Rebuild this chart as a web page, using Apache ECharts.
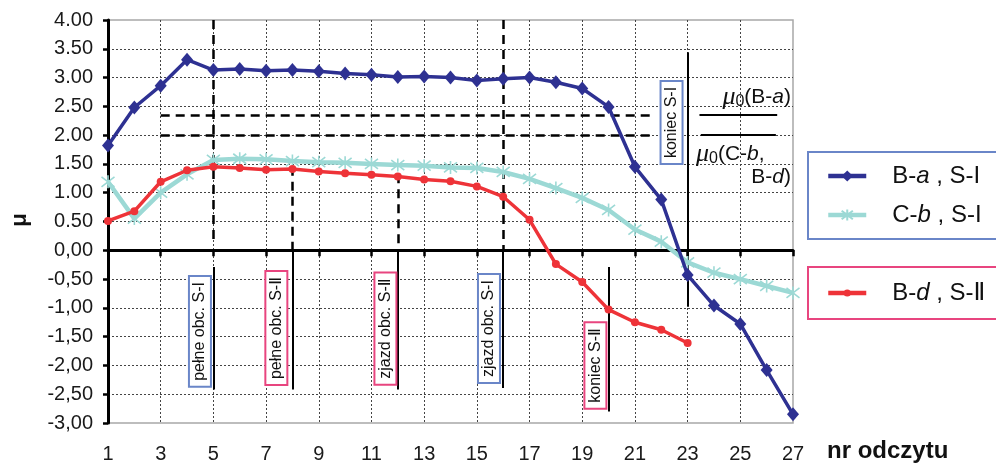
<!DOCTYPE html>
<html>
<head>
<meta charset="utf-8">
<script src="https://cdn.jsdelivr.net/npm/echarts@6/dist/echarts.min.js"></script>
<style>
  html, body { margin: 0; padding: 0; background: #fff; }
  #c { width: 996px; height: 464px; }
</style>
</head>
<body>
<div id="c"></div>
<script>
// reading numbers on the horizontal axis
const readings = ['1','2','3','4','5','6','7','8','9','10','11','12','13','14',
  '15','16','17','18','19','20','21','22','23','24','25','26','27'];

// friction coefficient μ per reading
const baValues = [1.82, 2.48, 2.86, 3.31, 3.13, 3.15, 3.12, 3.13, 3.11, 3.07, 3.05, 3.01, 3.02, 3.00,
  2.95, 2.98, 3.00, 2.92, 2.81, 2.49, 1.45, 0.88, -0.43, -0.96, -1.28, -2.08, -2.85];
const cbValues = [1.19, 0.55, 1.00, 1.32, 1.57, 1.59, 1.58, 1.55, 1.53, 1.52, 1.50, 1.48, 1.47, 1.44,
  1.43, 1.36, 1.24, 1.08, 0.91, 0.70, 0.36, 0.15, -0.21, -0.39, -0.50, -0.62, -0.74];
const bdValues = [0.51, 0.68, 1.19, 1.39, 1.45, 1.43, 1.40, 1.41, 1.37, 1.34, 1.31, 1.28, 1.23, 1.20,
  1.11, 0.93, 0.53, -0.24, -0.55, -1.03, -1.25, -1.38, -1.61];

// value axis range
const yMin = -3, yMax = 4, yStep = 0.5;

// series names
const seriesNames = ['B-a, S-I', 'C-b, S-I', 'B-d, S-Ⅱ'];

// reference lines: [x1, y1, x2, y2, dashed]
const guideLines = [
  [5, 4.0, 5, 0.15, true],
  [5, -0.29, 5, -2.42, false],
  [8, 1.45, 8, 0.0, true],
  [8, 0.0, 8, -2.42, false],
  [12, 1.32, 12, 0.0, true],
  [12, 0.0, 12, -2.42, false],
  [16, 4.0, 16, 0.0, true],
  [16, 0.0, 16, -2.39, false],
  [20, -0.29, 20, -2.8, false],
  [23, 3.44, 23, -0.98, false],
  [3, 2.35, 21.6, 2.35, true],
  [3, 2.0, 21.6, 2.0, true],
  [23.45, 2.35, 26.4, 2.35, false],
  [23.5, 2.0, 26.35, 2.0, false]
];

// phase markers: [text, x, y, frame colour key]
const phaseLabels = [
  ['pełne obc. S-I', 4.49, -1.41, 'I'],
  ['pełne obc. S-Ⅱ', 7.39, -1.35, 'II'],
  ['zjazd obc. S-Ⅱ', 11.53, -1.36, 'II'],
  ['zjazd obc. S-I', 15.46, -1.36, 'I'],
  ['koniec S-Ⅱ', 19.5, -2.0, 'II'],
  ['koniec S-I', 22.39, 2.22, 'I']
];

const FONT = '"Liberation Sans", Arial, "DejaVu Sans", sans-serif';
const NAVY = '#2E3192';
const CYAN = '#9CD9D5';
const RED = '#EE3338';
const FRAME = { I: '#6A86C8', II: '#E8457F' };

const legendText = {
  'B-a, S-I': '{g|}{n|B-}{i|a}{n| , S-I}',
  'C-b, S-I': '{g|}{n|C-}{i|b}{n| , S-I}',
  'B-d, S-Ⅱ': '{g|}{n|B-}{i|d}{n| , S-Ⅱ}'
};
const legendRich = {
  g: { width: 21 },
  n: { fontFamily: FONT, fontSize: 24, color: '#111', lineHeight: 26 },
  i: { fontFamily: FONT, fontSize: 24, color: '#111', lineHeight: 26, fontStyle: 'italic' }
};

const dotted = { color: '#444', width: 1, type: [2, 2] };
const asterisk = 'path://M0,0L10,10M10,0L0,10M5,-1.5L5,11.5';

const option = {
  animation: false,
  backgroundColor: '#fff',
  textStyle: { fontFamily: FONT },
  grid: {
    left: 108, right: 203, top: 20, bottom: 41,
    show: true, borderColor: '#a8a8a8', borderWidth: 1.5, backgroundColor: 'transparent'
  },
  legend: [
    {
      data: [seriesNames[0], seriesNames[1]],
      orient: 'vertical', left: 808, top: 152,
      padding: [12, 60, 12, 18], itemGap: 15, itemWidth: 38, itemHeight: 14,
      borderColor: FRAME.I, borderWidth: 2,
      lineStyle: { width: 4.5 },
      formatter: n => legendText[n],
      textStyle: { rich: legendRich }
    },
    {
      data: [seriesNames[2]],
      orient: 'vertical', left: 808, top: 267,
      padding: [14, 60, 14, 18], itemWidth: 38, itemHeight: 9,
      borderColor: FRAME.II, borderWidth: 2,
      lineStyle: { width: 4.5 },
      formatter: n => legendText[n],
      textStyle: { rich: legendRich }
    }
  ],
  xAxis: [
    {
      type: 'category', data: readings, boundaryGap: false, position: 'bottom',
      axisLine: { show: false, onZero: false },
      axisTick: { show: false },
      axisLabel: { interval: 1, fontSize: 20, color: '#1a1a1a', margin: 21 },
      splitLine: { show: true, interval: 1, showMinLine: false, showMaxLine: false, lineStyle: dotted }
    },
    {
      type: 'category', data: readings, boundaryGap: false, position: 'bottom',
      axisLine: { show: true, onZero: true, lineStyle: { color: '#000', width: 3 } },
      axisTick: { show: true, interval: 1, length: 6, lineStyle: { color: '#000', width: 2.5 } },
      axisLabel: { show: false },
      splitLine: { show: false }
    },
    { type: 'value', min: 1, max: 27, show: false }
  ],
  yAxis: {
    type: 'value', min: yMin, max: yMax, interval: yStep,
    axisLine: { show: true, onZero: false, lineStyle: { color: '#000', width: 3 } },
    axisTick: { show: true, length: 5, lineStyle: { color: '#000', width: 2.5 } },
    axisLabel: {
      fontSize: 20, color: '#1a1a1a', margin: 15,
      formatter: v => v > 0 ? v.toFixed(2) : v.toFixed(2).replace('.', ',')
    },
    splitLine: { show: true, showMinLine: false, showMaxLine: false, lineStyle: dotted }
  },
  series: [
    {
      name: seriesNames[0], type: 'line', data: baValues, z: 5,
      symbol: 'diamond', symbolSize: [12, 14],
      lineStyle: { color: NAVY, width: 3.5 },
      itemStyle: { color: NAVY }
    },
    {
      name: seriesNames[1], type: 'line', data: cbValues, z: 4,
      symbol: asterisk, symbolSize: 13,
      lineStyle: { color: CYAN, width: 4.5 },
      itemStyle: { color: CYAN, borderColor: CYAN, borderWidth: 1.6 }
    },
    {
      name: seriesNames[2], type: 'line', data: bdValues, z: 6,
      symbol: 'circle', symbolSize: 8,
      lineStyle: { color: RED, width: 3.5 },
      itemStyle: { color: RED }
    },
    {
      type: 'lines', coordinateSystem: 'cartesian2d', xAxisIndex: 2, yAxisIndex: 0,
      silent: true, z: 3,
      data: guideLines.map(g => ({
        coords: [[g[0], g[1]], [g[2], g[3]]],
        lineStyle: { color: '#000', width: g[4] ? 2.5 : 2, type: g[4] ? [9, 6] : 'solid', opacity: 1 }
      }))
    }
  ]
};

const chart = echarts.init(document.getElementById('c'));
chart.setOption(option);

const toPx = (x, y) => chart.convertToPixel({ xAxisIndex: 2, yAxisIndex: 0 }, [x, y]);

const graphics = phaseLabels.map(([text, x, y, key]) => {
  const p = toPx(x, y);
  return {
    type: 'text', x: p[0], y: p[1], rotation: Math.PI / 2, z: 10,
    style: {
      text, font: '16px ' + FONT, fill: '#111',
      align: 'center', verticalAlign: 'middle',
      backgroundColor: '#fff', borderColor: FRAME[key], borderWidth: 2, padding: [2, 5]
    }
  };
});

const mathRich = {
  mu: { fontFamily: '"Liberation Serif", "DejaVu Serif", serif', fontStyle: 'italic', fontSize: 26, lineHeight: 26, fill: '#111' },
  sub: { fontFamily: FONT, fontSize: 16, lineHeight: 16, verticalAlign: 'bottom', fill: '#111' },
  n: { fontFamily: FONT, fontSize: 21, lineHeight: 26, fill: '#111' },
  i: { fontFamily: FONT, fontSize: 21, lineHeight: 26, fontStyle: 'italic', fill: '#111' }
};

graphics.push(
  {
    type: 'text', x: 791, y: 97, z: 10,
    style: { text: '{mu|μ}{sub|0}{n|(B-}{i|a}{n|)}', rich: mathRich, align: 'right', verticalAlign: 'middle' }
  },
  {
    type: 'text', x: 696, y: 154, z: 10,
    style: { text: '{mu|μ}{sub|0}{n|(C-}{i|b}{n|,}', rich: mathRich, align: 'left', verticalAlign: 'middle' }
  },
  {
    type: 'text', x: 791, y: 177, z: 10,
    style: { text: '{n|B-}{i|d}{n|)}', rich: mathRich, align: 'right', verticalAlign: 'middle' }
  },
  {
    type: 'text', x: 20, y: 220, rotation: Math.PI / 2, z: 10,
    style: { text: 'μ', font: 'bold 22px ' + FONT, fill: '#111', align: 'center', verticalAlign: 'middle' }
  },
  {
    type: 'text', x: 827, y: 439, z: 10,
    style: { text: 'nr odczytu', font: 'bold 24px ' + FONT, fill: '#111', align: 'left', verticalAlign: 'top' }
  }
);

chart.setOption({ graphic: graphics });
</script>
</body>
</html>
